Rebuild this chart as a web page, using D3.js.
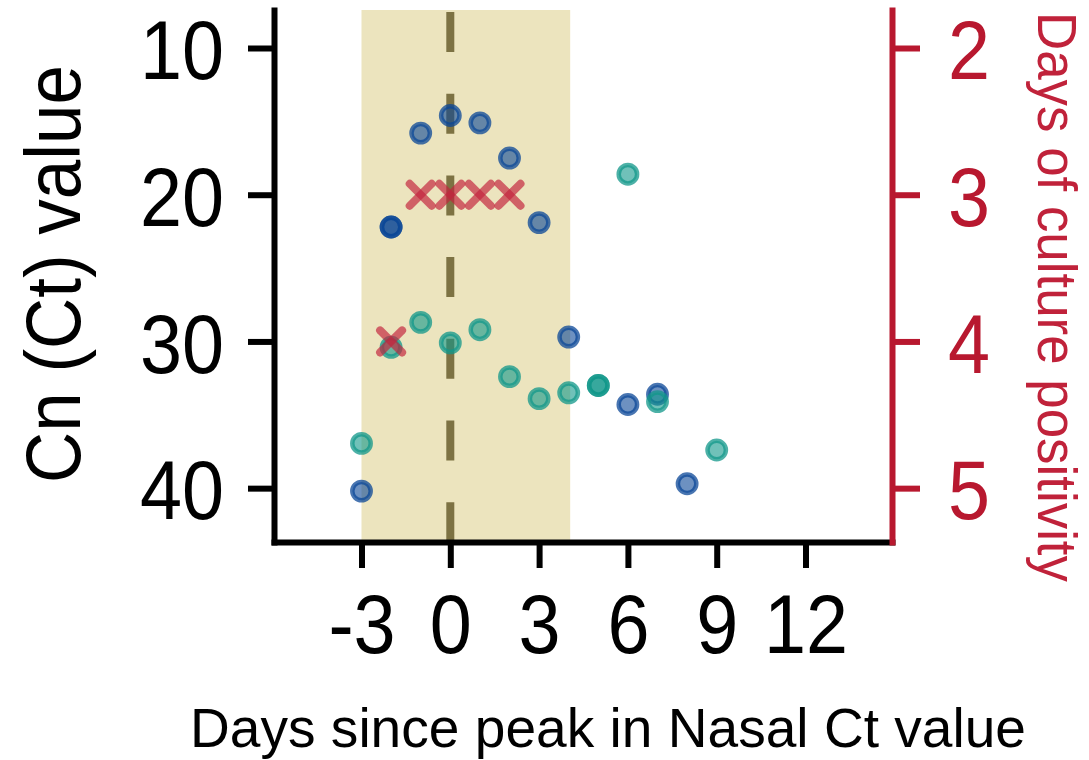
<!DOCTYPE html>
<html>
<head>
<meta charset="utf-8">
<script src="https://cdn.jsdelivr.net/npm/d3@7"></script>
<style>
  body { margin: 0; background: #fff; }
  svg { display: block; font-family: "Liberation Sans", Arial, Helvetica, sans-serif; }
</style>
</head>
<body>
<svg id="chart" width="1089" height="760"></svg>
<script>
// days since nasal peak vs Ct, two series + days of culture positivity (right axis)
var blueDays = [-3, -2, -2, -1, 0, 1, 2, 3, 4, 6, 7, 8];
var blueCt   = [40.2, 22.2, 22.2, 15.8, 14.6, 15.1, 17.5, 21.9, 29.7, 34.3, 33.6, 39.7];

var tealDays = [-3, -2, -1, 0, 1, 2, 3, 4, 5, 5, 6, 7, 9];
var tealCt   = [36.95, 30.4, 28.7, 30.1, 29.2, 32.4, 33.9, 33.5, 33.0, 33.0, 18.6, 34.1, 37.4];

var cultDays = [-2, -1, 0, 1, 2];
var cultPos  = [4, 3, 3, 3, 3];

var dayTicks = [-3, 0, 3, 6, 9, 12];
var ctTicks = [10, 20, 30, 40];
var posTicks = [2, 3, 4, 5];
var shadeRange = [-3, 4.05];

var svg = d3.select('#chart');

// NB: don't call these "top" -- window.top is read only
var padL = 274, padR = 892, padT = 10, padB = 542;

var x = d3.scaleLinear().domain([-5.956, 14.922]).range([padL, padR]);
var y = d3.scaleLinear().domain([7.41, 43.67]).range([padT, padB]);
// right axis is just Ct/10 + 1
var yR = d3.scaleLinear().domain([1.741, 5.367]).range([padT, padB]);

var red = '#b8182f';

// shaded window
svg.append('rect')
  .attr('x', x(shadeRange[0])).attr('y', padT)
  .attr('width', x(shadeRange[1]) - x(shadeRange[0]))
  .attr('height', padB - padT)
  .attr('fill', '#ece4be');

// dashed line at day 0
svg.append('line')
  .attr('x1', x(0)).attr('x2', x(0))
  .attr('y1', padT + 2).attr('y2', padB)
  .attr('stroke', '#7d7243').attr('stroke-width', 8)
  .attr('stroke-dasharray', '40,41.7');

function dots(days, cts, col) {
  svg.append('g').selectAll('circle')
    .data(d3.range(days.length))
    .join('circle')
    .attr('cx', function(i) { return x(days[i]); })
    .attr('cy', function(i) { return y(cts[i]); })
    .attr('r', 9.2)
    .attr('fill', col).attr('fill-opacity', 0.6)
    .attr('stroke', col).attr('stroke-opacity', 0.75).attr('stroke-width', 4.5);
}
dots(blueDays, blueCt, '#0b4797');
dots(tealDays, tealCt, '#11978a');

// culture positivity crosses, each arm drawn separately so the middle darkens
var xg = svg.append('g');
cultDays.forEach(function(d, i) {
  var cx = x(d), cy = yR(cultPos[i]), s = 11;
  [[-s, -s, s, s], [-s, s, s, -s]].forEach(function(a) {
    xg.append('line')
      .attr('x1', cx + a[0]).attr('y1', cy + a[1])
      .attr('x2', cx + a[2]).attr('y2', cy + a[3])
      .attr('stroke', '#c2233c').attr('stroke-opacity', 0.68)
      .attr('stroke-width', 8).attr('stroke-linecap', 'round');
  });
});

function squeeze(sel, k) {
  sel.each(function() {
    var w = this.getComputedTextLength();
    this.setAttribute('textLength', w * k);
    this.setAttribute('lengthAdjust', 'spacingAndGlyphs');
  });
}

function styleAxis(g, col) {
  g.select('.domain').attr('stroke', col).attr('stroke-width', 6).attr('stroke-linecap', 'square');
  g.selectAll('.tick line').attr('stroke', col).attr('stroke-width', 6);
  g.selectAll('.tick text').attr('fill', col).attr('font-size', 83)
    .attr('font-family', '"Liberation Sans", Arial, sans-serif');
}

var gx = svg.append('g').attr('transform', 'translate(0,' + padB + ')')
  .call(d3.axisBottom(x).tickValues(dayTicks).tickSize(26).tickSizeOuter(0).tickPadding(26)
    .tickFormat(d3.format('d')));
styleAxis(gx, '#000');
gx.selectAll('.tick text').attr('dy', '0.71em').text(function(d) { return d < 0 ? '-' + (-d) : d; });
squeeze(gx.selectAll('.tick text'), 0.91);

var gy = svg.append('g').attr('transform', 'translate(' + padL + ',0)')
  .call(d3.axisLeft(y).tickValues(ctTicks).tickSize(26).tickSizeOuter(0).tickPadding(24)
    .tickFormat(d3.format('d')));
styleAxis(gy, '#000');
gy.selectAll('.tick text').attr('dy', '0.37em');
squeeze(gy.selectAll('.tick text'), 0.91);

var gr = svg.append('g').attr('transform', 'translate(' + padR + ',0)')
  .call(d3.axisRight(yR).tickValues(posTicks).tickSize(28).tickSizeOuter(0).tickPadding(28)
    .tickFormat(d3.format('d')));
styleAxis(gr, red);
gr.selectAll('.tick text').attr('dy', '0.37em');
squeeze(gr.selectAll('.tick text'), 0.91);

// titles
svg.append('text')
  .attr('transform', 'translate(80,274) rotate(-90)')
  .attr('text-anchor', 'middle').attr('font-size', 77)
  .attr('textLength', 418).attr('lengthAdjust', 'spacingAndGlyphs')
  .text('Cn (Ct) value');

svg.append('text')
  .attr('x', 608).attr('y', 747)
  .attr('text-anchor', 'middle').attr('font-size', 56)
  .attr('textLength', 836).attr('lengthAdjust', 'spacingAndGlyphs')
  .text('Days since peak in Nasal Ct value');

svg.append('text')
  .attr('transform', 'translate(1038,297) rotate(90)')
  .attr('text-anchor', 'middle').attr('font-size', 55).attr('fill', '#c0223a')
  .attr('textLength', 570).attr('lengthAdjust', 'spacingAndGlyphs')
  .text('Days of culture positivity');
</script>
</body>
</html>
